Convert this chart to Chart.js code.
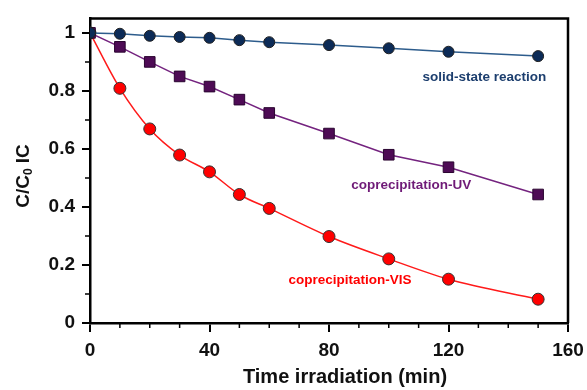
<!DOCTYPE html>
<html>
<head>
<meta charset="utf-8">
<script src="https://cdn.jsdelivr.net/npm/chart.js@4"></script>
<style>
  html, body { margin: 0; padding: 0; background: #fff; }
  #wrap { width: 587px; height: 390px; }
</style>
</head>
<body>
<div id="wrap"><canvas id="chart" width="587" height="390"></canvas></div>
<script>
'use strict';

// ── data ────────────────────────────────────────
const times      = [0, 10, 20, 30, 40, 50, 60, 80, 100, 120, 150];
const solidState = [1.0, 0.997, 0.99, 0.986, 0.983, 0.975, 0.968, 0.958, 0.947, 0.935, 0.92];
const coprecUV   = [1.0, 0.952, 0.90, 0.85, 0.815, 0.77, 0.724, 0.653, 0.58, 0.537, 0.443];
const coprecVIS  = [1.0, 0.809, 0.669, 0.579, 0.521, 0.443, 0.395, 0.298, 0.221, 0.151, 0.082];
const xMajor     = [0, 40, 80, 120, 160];
const yMajor     = [0, 0.2, 0.4, 0.6, 0.8, 1];

const FONT = "'Liberation Sans', Arial, sans-serif";
const pts = ys => times.map((t, i) => ({ x: t, y: ys[i] }));

// series labels placed in data units
const seriesLabels = [
  { text: 'solid-state reaction', x: 132, y: 0.846, color: '#1c3e6e' },
  { text: 'coprecipitation-UV',   x: 107.5, y: 0.474, color: '#6f1a77' },
  { text: 'coprecipitation-VIS',  x: 87,  y: 0.147, color: '#ff0000' }
];

const decor = {
  id: 'decor',
  afterDraw(chart) {
    const { ctx, chartArea: a, scales: { x, y } } = chart;
    ctx.save();
    ctx.strokeStyle = '#000';

    // top + right frame
    ctx.lineWidth = 2.5;
    ctx.beginPath();
    ctx.moveTo(a.left, a.top);
    ctx.lineTo(a.right, a.top);
    ctx.lineTo(a.right, a.bottom);
    ctx.stroke();

    // minor ticks
    ctx.lineWidth = 1.5;
    ctx.beginPath();
    for (let v = 10; v < 160; v += 10) {
      if (v % 40 === 0) continue;
      const px = x.getPixelForValue(v);
      ctx.moveTo(px, a.bottom);
      ctx.lineTo(px, a.bottom + 5);
    }
    for (let v = 0.1; v < 1.0; v += 0.2) {
      const py = y.getPixelForValue(v);
      ctx.moveTo(a.left, py);
      ctx.lineTo(a.left - 5, py);
    }
    ctx.stroke();

    // x title
    ctx.fillStyle = '#111';
    ctx.font = 'bold 20px ' + FONT;
    ctx.textAlign = 'center';
    ctx.textBaseline = 'middle';
    ctx.fillText('Time irradiation (min)', 345, 377);

    // y title with subscript
    ctx.translate(24, 176);
    ctx.rotate(-Math.PI / 2);
    const p1 = 'C/C', p3 = ' IC';
    ctx.font = 'bold 19px ' + FONT;
    const w1 = ctx.measureText(p1).width;
    ctx.font = 'bold 12px ' + FONT;
    const w2 = ctx.measureText('0').width;
    ctx.font = 'bold 19px ' + FONT;
    const w3 = ctx.measureText(p3).width;
    let cx = -(w1 + w2 + w3) / 2;
    ctx.textAlign = 'left';
    ctx.fillText(p1, cx, 0); cx += w1;
    ctx.font = 'bold 12px ' + FONT;
    ctx.fillText('0', cx, 5); cx += w2;
    ctx.font = 'bold 19px ' + FONT;
    ctx.fillText(p3, cx, 0);
    ctx.restore();

    // series labels
    ctx.save();
    ctx.font = 'bold 13.5px ' + FONT;
    ctx.textAlign = 'center';
    ctx.textBaseline = 'middle';
    seriesLabels.forEach(l => {
      ctx.fillStyle = l.color;
      ctx.fillText(l.text, x.getPixelForValue(l.x), y.getPixelForValue(l.y));
    });
    ctx.restore();
  }
};

new Chart(document.getElementById('chart').getContext('2d'), {
  type: 'line',
  data: {
    datasets: [
      {
        label: 'solid-state reaction',
        data: pts(solidState),
        borderColor: '#2d5c8c', borderWidth: 1.5,
        pointStyle: 'circle', pointRadius: 5.5,
        pointBackgroundColor: '#0c2b57', pointBorderColor: '#222', pointBorderWidth: 1
      },
      {
        label: 'coprecipitation-UV',
        data: pts(coprecUV),
        borderColor: '#74237f', borderWidth: 1.5,
        pointStyle: 'rect', pointRadius: 7.5,
        pointBackgroundColor: '#4e0b55', pointBorderColor: '#2a0530', pointBorderWidth: 1
      },
      {
        label: 'coprecipitation-VIS',
        data: pts(coprecVIS),
        borderColor: '#ff1a1a', borderWidth: 1.5,
        cubicInterpolationMode: 'monotone',
        pointStyle: 'circle', pointRadius: 6,
        pointBackgroundColor: '#ff0000', pointBorderColor: '#333', pointBorderWidth: 1
      }
    ]
  },
  options: {
    responsive: false, animation: false,
    layout: { padding: { top: 15, right: 19, left: 0, bottom: 0 } },
    plugins: { legend: { display: false }, tooltip: { enabled: false } },
    scales: {
      x: {
        type: 'linear', min: 0, max: 160,
        afterFit: s => { s.height = 67; s.paddingRight = 0; },
        afterBuildTicks: s => { s.ticks = xMajor.map(v => ({ value: v })); },
        border: { display: true, color: '#000', width: 2.5 },
        grid: { drawOnChartArea: false, tickLength: 9, color: '#000', lineWidth: 2 },
        ticks: { color: '#111', padding: 7, maxRotation: 0, font: { family: FONT, size: 19, weight: 'bold' } }
      },
      y: {
        min: 0, max: 1.05,
        afterFit: s => { s.width = 90; },
        afterBuildTicks: s => { s.ticks = yMajor.map(v => ({ value: v })); },
        border: { display: true, color: '#000', width: 2.5 },
        grid: { drawOnChartArea: false, tickLength: 8, color: '#000', lineWidth: 2 },
        ticks: {
          color: '#111', padding: 7,
          font: { family: FONT, size: 19, weight: 'bold' },
          callback: v => String(+v.toFixed(1))
        }
      }
    }
  },
  plugins: [decor]
});
</script>
</body>
</html>
